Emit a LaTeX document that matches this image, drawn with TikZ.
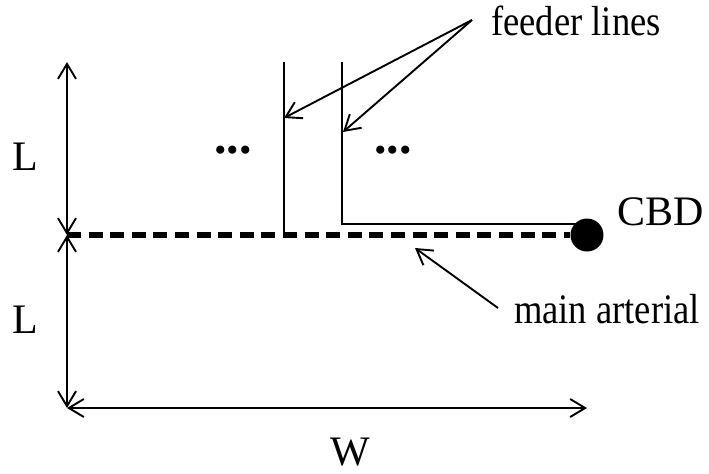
\documentclass[tikz,border=0pt]{standalone}
\usepackage{fontspec}
\setmainfont{Liberation Serif}
\usetikzlibrary{arrows.meta,positioning}
\newcommand{\nrw}[1]{\scalebox{0.87}[1]{#1}}
\tikzset{
  thinln/.style={line width=0.95pt},
  dimarr/.style={thinln,{Straight Barb[length=7.5pt,width=9pt]}-{Straight Barb[length=7.5pt,width=9pt]}},
  ptrarr/.style={thinln,-{Straight Barb[length=7.5pt,width=9pt]}},
  artln/.style={line width=2.8pt,dash pattern=on 7pt off 3.8pt},
  hubdot/.style={circle,fill=black,inner sep=0pt,minimum size=16.5pt},
  lbl/.style={font=\fontsize{21}{25}\selectfont,inner sep=0pt},
  dotlbl/.style={font=\fontsize{25}{28}\selectfont\bfseries,inner sep=0pt}
}
\begin{document}
\begin{tikzpicture}[x=0.5pt,y=-0.5pt]
  \useasboundingbox (0,0) rectangle (709,473);
  % corners of the region
  \coordinate (tl) at (67,62);
  \coordinate (ml) at (67,235);
  \coordinate (bl) at (67,408);
  \coordinate (br) at (587,408);
  \node[hubdot] (cbd) at (587,235) {};

  % feeders
  \coordinate (f1top) at (284,62);
  \coordinate (f1bot) at (284,235);
  \coordinate (f2top) at (342,62);
  \coordinate (f2bend) at (342,224);
  \coordinate (f1tip) at (284,118);
  \coordinate (f2tip) at (343,132);
  \coordinate (fdsrc) at (472,20);
  \coordinate (artsrc) at (498,308);
  \coordinate (arttip) at (415,248);

  % labels
  \node[lbl,anchor=base] (lup) at (25,170) {L};
  \node[lbl,anchor=base] (llow) at (25,333) {L};
  \node[lbl,anchor=base] (lw) at (350,465) {W};
  \node[lbl,anchor=base west] (lcbd) at (617,225) {CBD};
  \node[lbl,anchor=base] (lfeed) at (576,35) {\nrw{feeder lines}};
  \node[lbl,anchor=base] (lart) at (607,323) {\nrw{main arterial}};
  \node[dotlbl] (dotsl) at (233,150) {...};
  \node[dotlbl] (dotsr) at (393,150) {...};

  \draw[dimarr] (tl) -- (ml);
  \draw[dimarr] (ml) -- (bl);
  \draw[dimarr] (bl) -- (br);
  \draw[artln] (ml) -- (cbd);
  \draw[thinln] (f1top) -- (f1bot);
  \draw[thinln] (f2top) -- (f2bend) -- (f2bend -| cbd);
  \draw[ptrarr] (fdsrc) -- (f1tip);
  \draw[ptrarr] (fdsrc) -- (f2tip);
  \draw[ptrarr] (artsrc) -- (arttip);
\end{tikzpicture}
\end{document}
